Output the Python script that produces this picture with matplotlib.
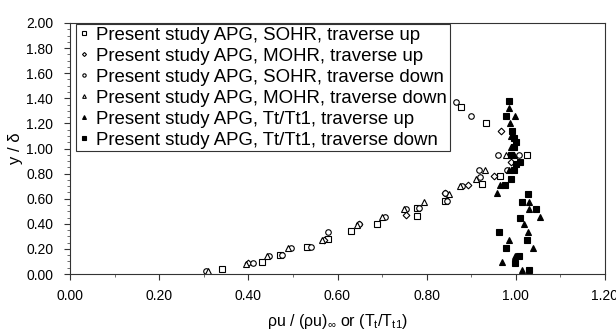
import matplotlib
matplotlib.use("Agg")
import matplotlib.pyplot as plt
from matplotlib.ticker import MultipleLocator, FormatStrFormatter

plt.rcParams['font.family'] = ['Liberation Sans', 'DejaVu Sans']
plt.rcParams['mathtext.fontset'] = 'custom'
plt.rcParams['mathtext.rm'] = 'Liberation Sans'
plt.rcParams['mathtext.it'] = 'Liberation Sans'
plt.rcParams['mathtext.cal'] = 'Liberation Sans'

# ---- data ----
sohr_up_x = [0.341, 0.430, 0.471, 0.531, 0.578, 0.630, 0.688, 0.778, 0.778, 0.840, 0.925, 0.965, 1.025, 0.876, 0.932]
sohr_up_y = [0.038, 0.096, 0.154, 0.218, 0.280, 0.340, 0.400, 0.465, 0.523, 0.584, 0.715, 0.780, 0.948, 1.328, 1.200]

mohr_up_x = [0.400, 0.570, 0.649, 0.753, 0.840, 0.893, 0.952, 0.990, 0.966]
mohr_up_y = [0.085, 0.270, 0.396, 0.468, 0.643, 0.710, 0.780, 0.890, 1.142]

sohr_dn_x = [0.306, 0.410, 0.446, 0.476, 0.496, 0.541, 0.578, 0.649, 0.707, 0.753, 0.782, 0.840, 0.845, 0.880, 0.917, 0.920, 0.960, 1.007, 0.980, 0.865, 0.899]
sohr_dn_y = [0.024, 0.090, 0.143, 0.154, 0.207, 0.218, 0.337, 0.396, 0.452, 0.515, 0.523, 0.643, 0.584, 0.700, 0.830, 0.770, 0.948, 0.948, 0.830, 1.370, 1.261]

mohr_dn_x = [0.310, 0.395, 0.442, 0.490, 0.565, 0.643, 0.700, 0.750, 0.794, 0.850, 0.875, 0.930, 0.910, 0.978]
mohr_dn_y = [0.024, 0.080, 0.140, 0.207, 0.270, 0.390, 0.452, 0.520, 0.576, 0.640, 0.700, 0.830, 0.760, 0.948]

tt_up_x = [1.013, 0.969, 0.998, 1.039, 0.984, 1.028, 1.018, 1.055, 1.029, 1.029, 0.958, 0.965, 0.985, 0.995, 0.990, 0.990, 0.986, 0.999, 0.984]
tt_up_y = [0.032, 0.093, 0.146, 0.210, 0.271, 0.337, 0.396, 0.457, 0.518, 0.576, 0.648, 0.710, 0.830, 0.948, 1.014, 1.100, 1.200, 1.259, 1.325]

tt_dn_x = [1.029, 0.998, 1.007, 0.977, 1.025, 0.963, 1.010, 1.046, 1.013, 1.028, 0.975, 0.990, 0.995, 1.000, 1.010, 0.990, 0.996, 1.000, 0.996, 0.992, 0.978, 0.984]
tt_dn_y = [0.032, 0.085, 0.146, 0.205, 0.271, 0.332, 0.449, 0.518, 0.576, 0.637, 0.710, 0.760, 0.830, 0.876, 0.890, 0.948, 1.014, 1.054, 1.081, 1.139, 1.259, 1.378]

labels = [
    "Present study APG, SOHR, traverse up",
    "Present study APG, MOHR, traverse up",
    "Present study APG, SOHR, traverse down",
    "Present study APG, MOHR, traverse down",
    "Present study APG, Tt/Tt1, traverse up",
    "Present study APG, Tt/Tt1, traverse down",
]
x_ticks = [0.0, 0.2, 0.4, 0.6, 0.8, 1.0, 1.2]
y_ticks = [0.0, 0.2, 0.4, 0.6, 0.8, 1.0, 1.2, 1.4, 1.6, 1.8, 2.0]

fig = plt.figure(figsize=(6.16, 3.31), dpi=100)
ax = fig.add_axes([70/616, 57/331, 535/616, 251/331])

series = [
    (sohr_up_x, sohr_up_y, dict(marker='s', mfc='white', ms=3.8)),
    (mohr_up_x, mohr_up_y, dict(marker='D', mfc='white', ms=3.4)),
    (sohr_dn_x, sohr_dn_y, dict(marker='o', mfc='white', ms=4.0)),
    (mohr_dn_x, mohr_dn_y, dict(marker='^', mfc='white', ms=4.4)),
    (tt_up_x, tt_up_y, dict(marker='^', mfc='black', ms=4.6)),
    (tt_dn_x, tt_dn_y, dict(marker='s', mfc='black', ms=4.2)),
]
for (xs, ys, st), lab in zip(series, labels):
    ax.plot(xs, ys, linestyle='none', color='black', mec='black', mew=0.8, label=lab, **st)

ax.set_xlim(0, 1.2)
ax.set_ylim(0, 2.0)
ax.set_xticks(x_ticks)
ax.set_yticks(y_ticks)
ax.xaxis.set_major_formatter(FormatStrFormatter('%.2f'))
ax.yaxis.set_major_formatter(FormatStrFormatter('%.2f'))
ax.xaxis.set_minor_locator(MultipleLocator(0.1))
ax.yaxis.set_minor_locator(MultipleLocator(0.05))
ax.tick_params(which='major', direction='out', length=4, width=0.8, labelsize=10, color='#333333')
ax.tick_params(which='minor', direction='out', length=2, width=0.6, color='#555555')
ax.tick_params(axis='x', pad=7)
ax.tick_params(axis='y', pad=8)
for sp in ax.spines.values():
    sp.set_color('#333333')
    sp.set_linewidth(0.8)

ax.set_ylabel("y / δ", fontsize=12, labelpad=2)
ax.set_xlabel("ρu / (ρu)$_{\\infty}$ or (T$_{t}$/T$_{t1}$)", fontsize=11.5, labelpad=6)

leg = ax.legend(loc='upper left', bbox_to_anchor=(0.011, 0.996), borderaxespad=0,
                fontsize=13.4, markerscale=0.6, handlelength=0.6, handletextpad=0.35,
                labelspacing=0.21, borderpad=0.15, frameon=True, fancybox=False,
                framealpha=1, edgecolor='#333333')
leg.get_frame().set_linewidth(0.8)

fig.savefig("out.png", dpi=100)
